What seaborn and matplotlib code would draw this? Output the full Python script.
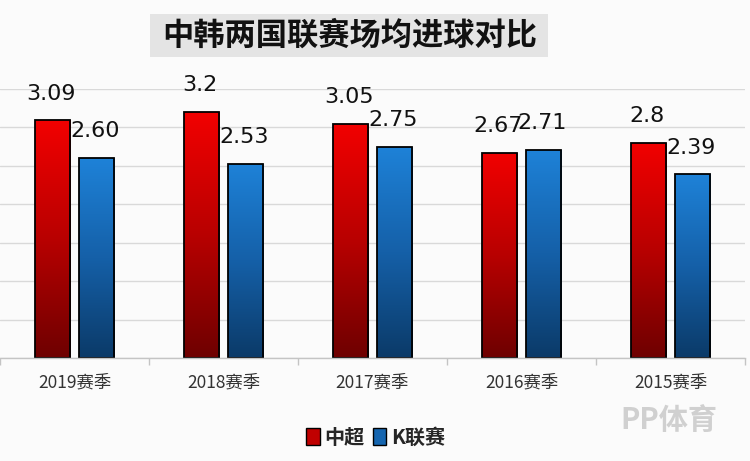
import numpy as np
import pandas as pd
import matplotlib.pyplot as plt
import seaborn as sns
from matplotlib.patches import Patch, Rectangle
from matplotlib.colors import LinearSegmentedColormap
from matplotlib.ticker import FixedLocator

seasons = ['2019赛季', '2018赛季', '2017赛季', '2016赛季', '2015赛季']
leagues = ['中超', 'K联赛']
csl = [3.09, 3.2, 3.05, 2.67, 2.8]
kleague = [2.60, 2.53, 2.75, 2.71, 2.39]
csl_labels = ['3.09', '3.2', '3.05', '2.67', '2.8']
kleague_labels = ['2.60', '2.53', '2.75', '2.71', '2.39']

df = pd.DataFrame({
    'season': seasons * 2,
    'goals': csl + kleague,
    'league': [leagues[0]] * len(seasons) + [leagues[1]] * len(seasons),
})

sns.set_theme(style='white')
plt.rcParams['font.family'] = ['Noto Sans CJK SC', 'DejaVu Sans']

bg = '#fbfbfb'
fig = plt.figure(figsize=(7.5, 4.61), dpi=100, facecolor=bg)
ax = fig.add_axes([0, 0.2234, 0.9933, 0.5836])
ax.set_facecolor(bg)

sns.barplot(data=df, x='season', y='goals', hue='league', palette=['#c00000', '#1666b0'],
            width=0.59, gap=0.2, edgecolor='black', linewidth=1.3, legend=False, ax=ax)

# vertical gradient inside each bar, like the original spreadsheet chart
cmaps = [LinearSegmentedColormap.from_list('red', ['#6e0000', '#b80000', '#f20000']),
         LinearSegmentedColormap.from_list('blue', ['#0b3a68', '#1560a8', '#1e82d8'])]
grad = np.linspace(0, 1, 256).reshape(-1, 1)
all_labels = [csl_labels, kleague_labels]
for i, cont in enumerate(ax.containers):
    for bar, lab in zip(cont, all_labels[i]):
        x0, w, h = bar.get_x(), bar.get_width(), bar.get_height()
        bar.set_facecolor('none')
        im = ax.imshow(grad, cmap=cmaps[i], origin='lower', aspect='auto',
                       extent=(x0, x0 + w, 0, h), zorder=bar.get_zorder() - 0.1)
        im.set_clip_path(bar)
        ax.text(x0 + w / 2 - 0.01, h + 0.27, lab, ha='center', va='baseline',
                fontsize=16, color='#111111', family='DejaVu Sans', clip_on=False)

ax.set_xlim(-0.5, 4.5)
ax.set_ylim(0, 3.5)
ax.set_yticks(np.arange(0, 3.51, 0.5))
ax.set_yticklabels([])
ax.yaxis.grid(True, color='#d9d9d9', lw=1)
ax.set_axisbelow(True)
for s in ['left', 'top', 'right']:
    ax.spines[s].set_visible(False)
ax.spines['bottom'].set_color('#c4c4c4')
ax.spines['bottom'].set_linewidth(1)
ax.set_xlabel('')
ax.set_ylabel('')
ax.tick_params(axis='x', which='major', length=0, pad=11, labelsize=12.5, labelcolor='#333333')
ax.tick_params(axis='y', length=0)
ax.xaxis.set_minor_locator(FixedLocator(np.arange(-0.5, 4.6, 1)))
ax.tick_params(axis='x', which='minor', bottom=True, length=5, width=1, color='#c4c4c4', direction='out')

# title on grey box
fig.patches.append(Rectangle((0.2, 0.876), 0.531, 0.0933, transform=fig.transFigure,
                             facecolor='#e4e4e4', edgecolor='none'))
fig.text(0.466, 0.923, '中韩两国联赛场均进球对比', ha='center', va='center',
         fontsize=22.5, fontweight='bold', color='#111111')

handles = [Patch(facecolor='#c00000', edgecolor='black', lw=1),
           Patch(facecolor='#1666b0', edgecolor='black', lw=1)]
leg = fig.legend(handles, leagues, loc='center', bbox_to_anchor=(0.501, 0.052), ncol=2,
                 frameon=False, fontsize=14.5, handlelength=0.65, handleheight=0.9,
                 handletextpad=0.25, columnspacing=0.4)
for t in leg.get_texts():
    t.set_fontweight('bold')

fig.text(0.892, 0.089, 'PP体育', ha='center', va='center', fontsize=21,
         fontweight='bold', color='#d0d0d0')

fig.savefig('out.png', dpi=100, facecolor=bg)
